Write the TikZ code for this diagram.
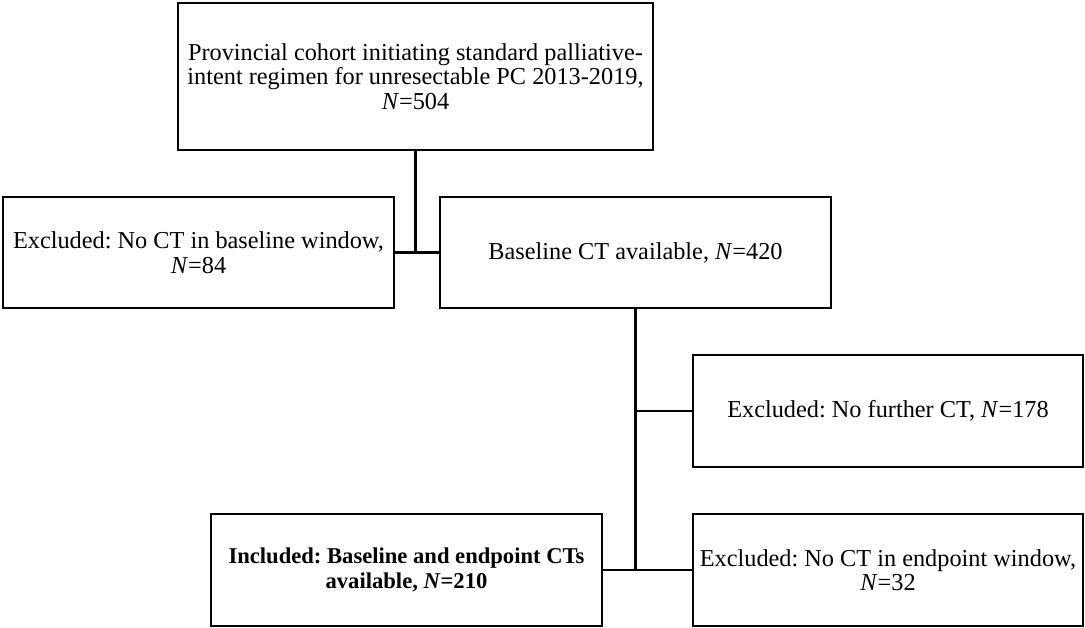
\documentclass[tikz,border=0pt]{standalone}
\usepackage{fontspec}
\setmainfont{Liberation Serif}
\frenchspacing
\begin{document}
\begin{tikzpicture}[x=1pt,y=-1pt,
  box/.style={draw=black,line width=2.2pt,rectangle,inner sep=0pt,align=center,
    font=\fontsize{24.3}{24.5}\selectfont},
  conn/.style={draw=black,line width=2.2pt}]
\useasboundingbox (0,0) rectangle (1085,628);
\node[box,minimum width=475pt,minimum height=147pt] (top) at (415.5,76.5)
  {Provincial cohort initiating standard palliative-\\intent regimen for unresectable PC 2013-2019,\\\textit{N}=504};
\node[box,minimum width=391pt,minimum height=111pt] (ex1) at (198.5,252.5)
  {Excluded: No CT in baseline window,\\\textit{N}=84};
\node[box,minimum width=391pt,minimum height=111pt] (base) at (635.5,252.5)
  {Baseline CT available, \textit{N}=420};
\node[box,minimum width=390pt,minimum height=112pt] (ex2) at (888,411)
  {Excluded: No further CT, \textit{N}=178};
\node[box,minimum width=391pt,minimum height=112pt,font=\fontsize{22.6}{24.5}\selectfont\bfseries] (incl) at (406.5,570)
  {Included: Baseline and endpoint CTs\\available, \textit{N}=210};
\node[box,minimum width=390pt,minimum height=112pt] (ex3) at (888,570)
  {Excluded: No CT in endpoint window,\\\textit{N}=32};
\draw[conn] (top.south) -- (top.south |- ex1.east);
\draw[conn] (ex1.east) -- (base.west);
\draw[conn] (base.south) -- (base.south |- incl.east);
\draw[conn] (ex2.west) -- (ex2.west -| base.south);
\draw[conn] (incl.east) -- (ex3.west);
\end{tikzpicture}
\end{document}
